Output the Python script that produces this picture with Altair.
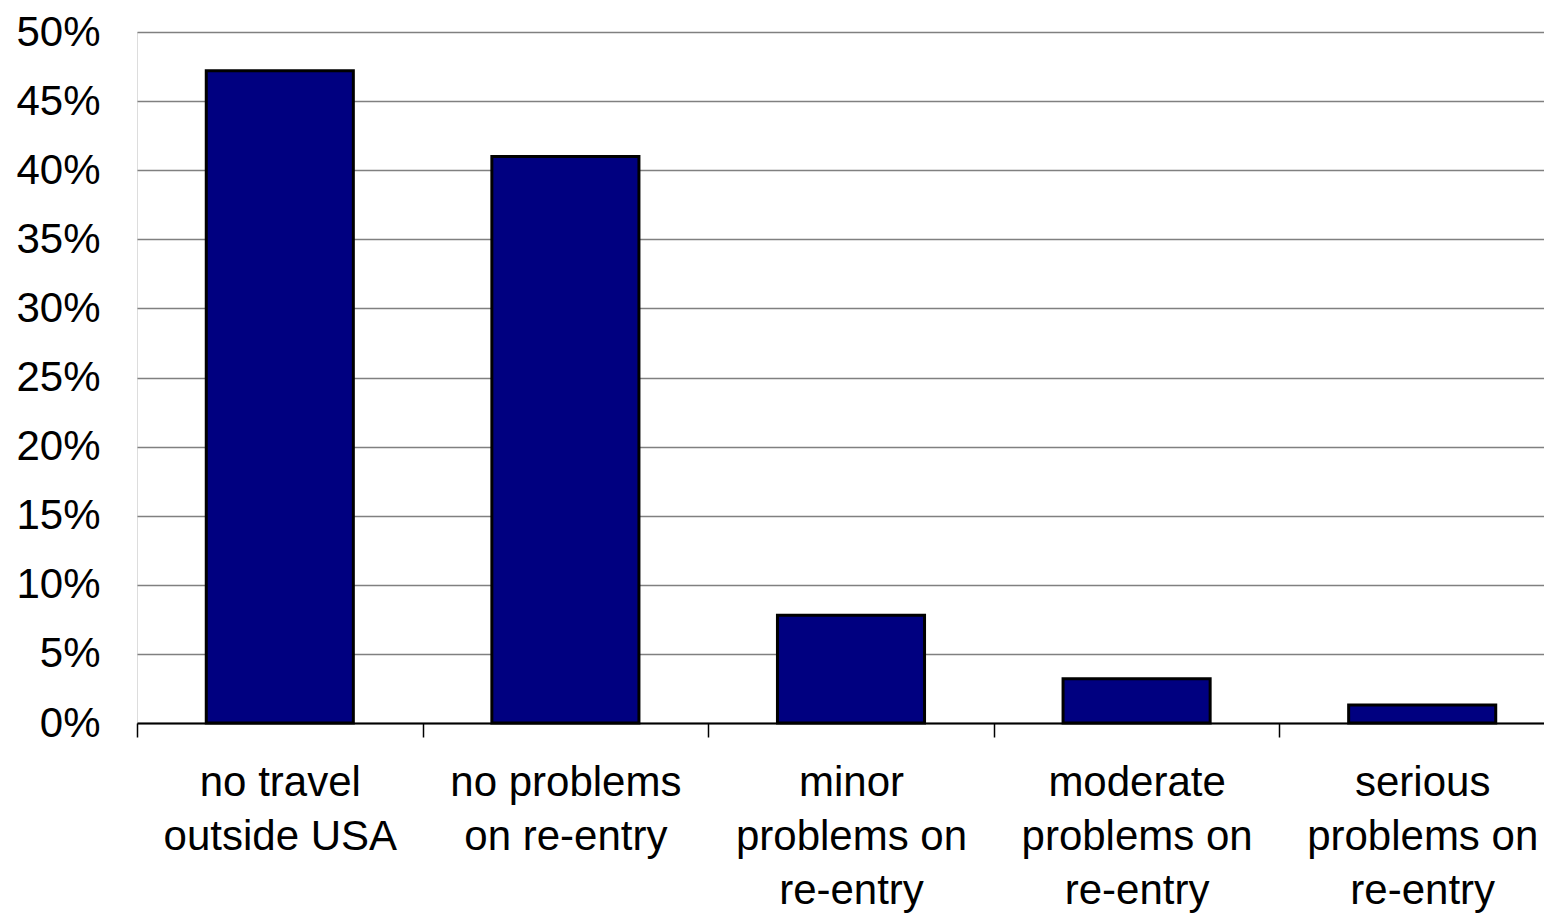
import altair as alt
import pandas as pd

categories = [
    "no travel\noutside USA",
    "no problems\non re-entry",
    "minor\nproblems on\nre-entry",
    "moderate\nproblems on\nre-entry",
    "serious\nproblems on\nre-entry",
]
shares = [0.472, 0.410, 0.078, 0.032, 0.013]
y_ticks = [0, 0.05, 0.10, 0.15, 0.20, 0.25, 0.30, 0.35, 0.40, 0.45, 0.50]

df = pd.DataFrame({"category": categories, "share": shares})

FONT = "Liberation Sans"

chart = (
    alt.Chart(df)
    .mark_bar(color="#000080", stroke="#000000", strokeWidth=3,
              width=alt.RelativeBandSize(0.515))
    .encode(
        x=alt.X(
            "category:N",
            sort=categories,
            scale=alt.Scale(paddingInner=0, paddingOuter=0, range=[0, 1428]),
            axis=alt.Axis(
                title=None,
                labelAngle=0,
                labelExpr="datum.value ? split(datum.value, '\\n') : ''",
                labelFont=FONT,
                labelFontSize=42,
                labelLineHeight=54,
                labelBaseline="top",
                labelColor="#000000",
                labelPadding=25,
                labelLimit=400,
                domainColor="#000000",
                domainWidth=2,
                tickColor="#000000",
                tickWidth=1.5,
                tickSize=14,
                tickBand="extent",
                grid=False,
            ),
        ),
        y=alt.Y(
            "share:Q",
            scale=alt.Scale(domain=[0, 0.5], nice=False),
            axis=alt.Axis(
                title=None,
                values=y_ticks,
                format=".0%",
                labelFont=FONT,
                labelFontSize=42,
                labelColor="#000000",
                labelPadding=37,
                domain=False,
                ticks=False,
                grid=True,
                gridColor="#808080",
                gridWidth=1.5,
            ),
        ),
    )
    .properties(
        width=1407,
        height=691,
        autosize=alt.AutoSizeParams(type="none"),
        padding={"left": 129, "top": 24, "right": 0, "bottom": 193},
    )
    .configure_view(stroke=None)
    .configure(background="#ffffff")
)

chart.save("out.html", embed_options={"renderer": "svg", "actions": False})
